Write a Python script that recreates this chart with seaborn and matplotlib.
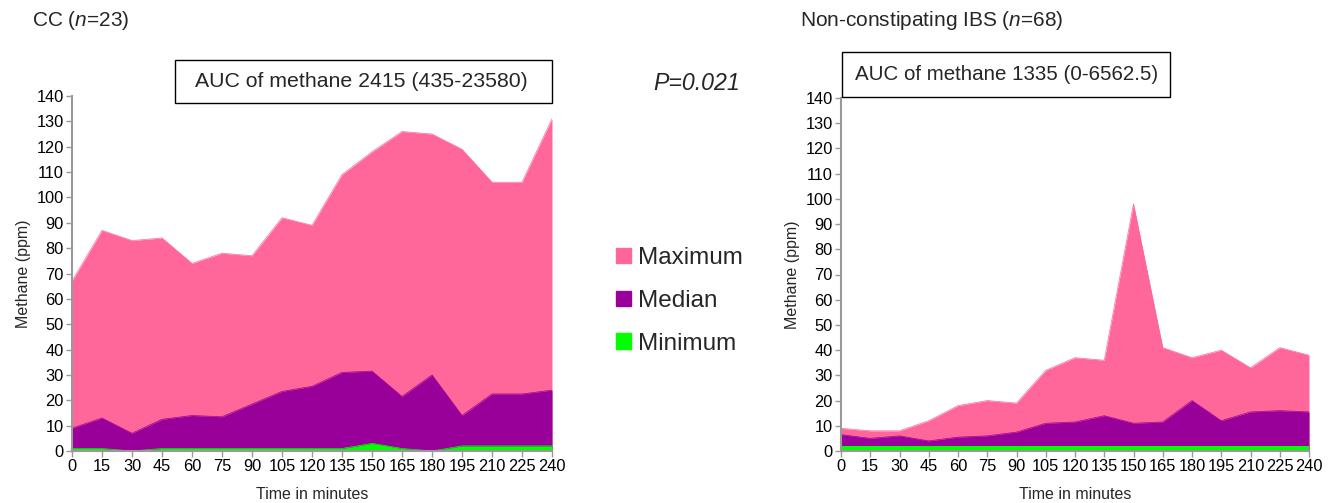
import matplotlib
matplotlib.use("Agg")
import matplotlib.pyplot as plt
import seaborn as sns
from matplotlib.patches import Patch, Rectangle

minutes = [0, 15, 30, 45, 60, 75, 90, 105, 120, 135, 150, 165, 180, 195, 210, 225, 240]

cc_max = [67, 87, 83, 84, 74, 78, 77, 92, 89, 109, 118, 126, 125, 119, 106, 106, 131]
cc_median = [9, 13, 7, 12.5, 14, 13.5, 18.5, 23.5, 25.5, 31, 31.5, 21.5, 30, 14, 22.5, 22.5, 24]
cc_min = [1, 1, 0, 1, 1, 1, 1, 1, 1, 1, 3, 1, 0, 2, 2, 2, 2]

ibs_max = [9, 8, 8, 12, 18, 20, 19, 32, 37, 36, 98, 41, 37, 40, 33, 41, 38]
ibs_median = [6.5, 5, 6, 4, 5.5, 6, 7.5, 11, 11.5, 14, 11, 11.5, 20, 12, 15.5, 16, 15.5]
ibs_min = [2, 2, 2, 2, 2, 2, 2, 2, 2, 2, 2, 2, 2, 2, 2, 2, 2]

series_names = ["Maximum", "Median", "Minimum"]
colors = ["#ff6699", "#990099", "#00ff00"]

sns.set_style("white")
plt.rcParams["font.family"] = ["Liberation Sans", "DejaVu Sans"]
plt.rcParams["mathtext.fontset"] = "custom"
plt.rcParams["mathtext.rm"] = "Liberation Sans"
plt.rcParams["mathtext.it"] = "Liberation Sans:italic"

W, H = 1338, 503
fig = plt.figure(figsize=(W / 100, H / 100), dpi=100)
ax1 = fig.add_axes([72 / W, 1 - 451 / H, 480 / W, 355 / H])
ax2 = fig.add_axes([841 / W, 1 - 451 / H, 468 / W, 353 / H])


def draw_panel(ax, series):
    for vals, col in zip(series, colors):
        ax.fill_between(minutes, 0, vals, color=col, linewidth=0)
        sns.lineplot(x=minutes, y=vals, ax=ax, color=col, linewidth=0.5)
    ax.set_xlim(0, 240)
    ax.set_ylim(0, 140)
    ax.set_xticks(minutes)
    ax.set_yticks(range(0, 141, 10))
    ax.tick_params(axis="both", direction="out", length=4, width=1,
                   color="#999999", labelsize=11.8, pad=2,
                   bottom=True, left=True, labelcolor="black")
    for s in ["top", "right"]:
        ax.spines[s].set_visible(False)
    for s in ["left", "bottom"]:
        ax.spines[s].set_color("#999999")
        ax.spines[s].set_linewidth(1.5)
    ax.set_xlabel("Time in minutes", fontsize=11.5, labelpad=9)
    ax.set_ylabel("Methane (ppm)", fontsize=11.5, labelpad=4)


draw_panel(ax1, [cc_max, cc_median, cc_min])
draw_panel(ax2, [ibs_max, ibs_median, ibs_min])

fig.text(32 / W, 1 - 21 / H, "CC ($n$=23)", fontsize=15, va="center")
fig.text(800 / W, 1 - 21 / H, "Non-constipating IBS ($n$=68)", fontsize=15, va="center")


def auc_box(x0, y0, x1, y1, tx, label, size):
    fig.patches.append(Rectangle((x0 / W, 1 - y1 / H), (x1 - x0) / W, (y1 - y0) / H,
                                 transform=fig.transFigure, facecolor="white",
                                 edgecolor="black", linewidth=1, zorder=5))
    fig.text(tx / W, 1 - (y0 + y1) / 2 / H, label, fontsize=size,
             ha="center", va="center", zorder=6)


auc_box(175, 60, 552, 103, 361, "AUC of methane 2415 (435-23580)", 15.3)
auc_box(842, 52, 1170, 97, 1007, "AUC of methane 1335 (0-6562.5)", 14.8)
fig.text(696.5 / W, 1 - 83 / H, "P=0.021", fontsize=16.7, style="italic",
         ha="center", va="center")

handles = [Patch(facecolor=c, edgecolor=c) for c in colors]
fig.legend(handles, series_names, loc="center left", bbox_to_anchor=(616 / W, 1 - 301 / H),
           frameon=False, fontsize=17.5, handlelength=0.6, handleheight=0.6,
           handletextpad=0.3, labelspacing=0.85, borderpad=0, borderaxespad=0)

fig.savefig("out.png", dpi=100)
